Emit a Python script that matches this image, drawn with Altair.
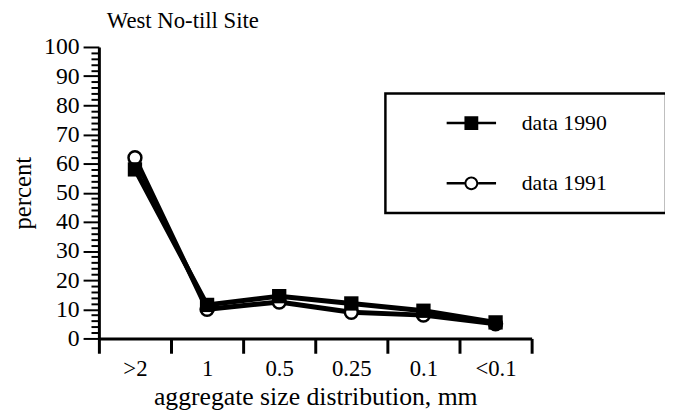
import altair as alt
import pandas as pd

categories = [">2", "1", "0.5", "0.25", "0.1", "<0.1"]
values_1990 = [58, 11.5, 14.5, 12, 9.5, 5.5]
values_1991 = [62, 10, 12.5, 9, 8, 5]
series_names = ["data 1990", "data 1991"]
y_tick_values = list(range(0, 101, 2))

df = pd.DataFrame({
    "size": categories * 2,
    "percent": values_1990 + values_1991,
    "series": [series_names[0]] * len(categories) + [series_names[1]] * len(categories),
})

FONT = "Liberation Serif"

x_enc = alt.X(
    "size:N",
    sort=categories,
    scale=alt.Scale(type="band", domain=categories, paddingInner=0, paddingOuter=0),
    axis=alt.Axis(
        title="aggregate size distribution, mm",
        tickBand="extent",
        tickSize=15,
        tickWidth=3,
        domainWidth=3,
        labelAngle=0,
        labelFontSize=23,
        titleFontSize=26,
        labelPadding=5,
        titlePadding=3,
        grid=False,
        labelFont=FONT, titleFont=FONT, titleFontWeight="normal",
        labelColor="black", titleColor="black", domainColor="black", tickColor="black",
    ),
)
y_enc = alt.Y(
    "percent:Q",
    scale=alt.Scale(domain=[0, 100], nice=False, zero=True),
    axis=alt.Axis(
        title="percent",
        values=y_tick_values,
        labelExpr="datum.value % 10 === 0 ? datum.label : ''",
        labelOverlap=False,
        tickSize={"condition": {"test": "datum.value % 10 === 0", "value": 16}, "value": 8},
        tickWidth=2,
        domainWidth=3,
        labelFontSize=24,
        titleFontSize=25,
        labelPadding=4,
        titlePadding=8,
        grid=False,
        labelFont=FONT, titleFont=FONT, titleFontWeight="normal",
        labelColor="black", titleColor="black", domainColor="black", tickColor="black",
    ),
)

base = alt.Chart(df)

lines = base.mark_line(color="black", strokeWidth=5).encode(x=x_enc, y=y_enc, detail="series:N")

circles = base.transform_filter(alt.datum.series == series_names[1]).mark_point(
    shape="circle", filled=False, fill="white", stroke="black", strokeWidth=2.5, size=170, opacity=1
).encode(x=x_enc, y=y_enc)

squares = base.transform_filter(alt.datum.series == series_names[0]).mark_point(
    shape="square", filled=True, color="black", size=210, opacity=1
).encode(x=x_enc, y=y_enc)

path_sq = "M0,-1L0,-1M0,1L0,1M-1,-0.05H1V0.05H-1Z M-0.28,-0.28H0.28V0.28H-0.28Z"
path_circ = ("M0,-1L0,-1M0,1L0,1M-1,-0.05H-0.28V0.05H-1Z M0.28,-0.05H1V0.05H0.28Z "
             "M-0.28,0A0.28,0.28 0 1,0 0.28,0A0.28,0.28 0 1,0 -0.28,0Z "
             "M-0.2,0A0.2,0.2 0 1,1 0.2,0A0.2,0.2 0 1,1 -0.2,0Z")

legend_layer = base.transform_filter("datum.percent < 0").mark_point(
    filled=True, color="black", opacity=1
).encode(
    shape=alt.Shape(
        "series:N",
        scale=alt.Scale(domain=series_names, range=[path_sq, path_circ]),
        legend=alt.Legend(
            title="MMM",
            titleOrient="right",
            titleColor="white",
            titleFontSize=22,
            titlePadding=0,
            orient="none",
            legendX=290,
            legendY=47,
            symbolSize=2500,
            symbolFillColor="black",
            symbolStrokeWidth=0,
            symbolOffset=57,
            labelFont=FONT,
            labelFontSize=22,
            labelColor="black",
            labelOffset=26,
            labelLimit=0,
            padding=5,
            rowPadding=11,
            strokeColor="black",
            fillColor="white",
        ),
    )
)

chart = alt.layer(lines, circles, squares, legend_layer).properties(
    width=438,
    height=295,
    autosize=alt.AutoSizeParams(type="none"),
    padding={"left": 92, "top": 37, "right": 135, "bottom": 71},
    background="white",
    title=alt.TitleParams(
        "West No-till Site", anchor="start", frame="group", font=FONT, fontSize=23,
        fontWeight="normal", color="black", dx=8, offset=2,
    ),
).configure_view(stroke=None).configure_legend(strokeWidth=2.5)

chart.save("out.html", embed_options={"renderer": "svg", "actions": False})
